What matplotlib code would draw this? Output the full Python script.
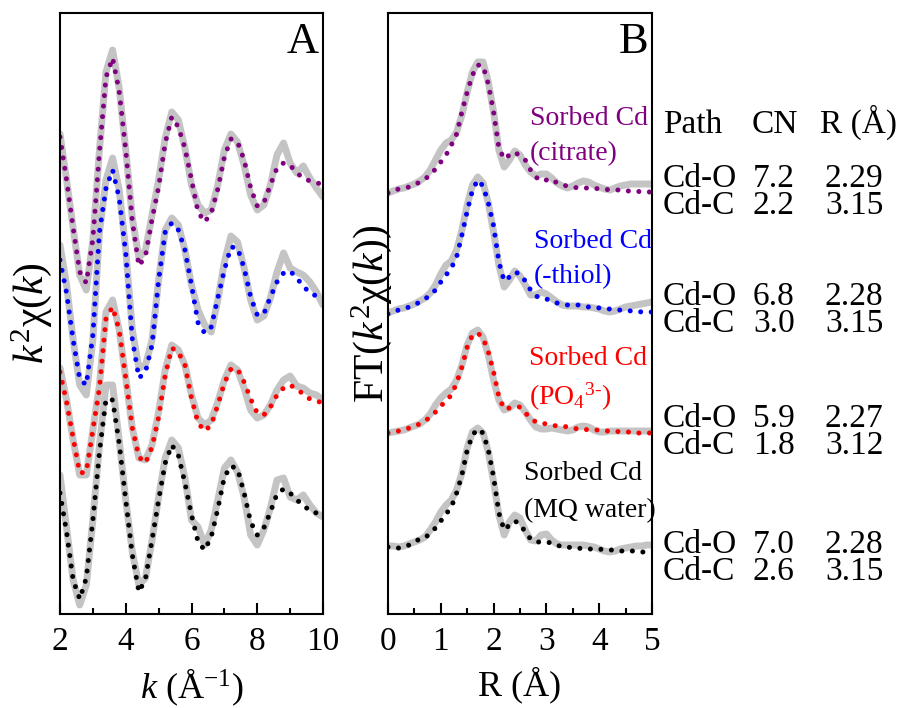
import numpy as np
import matplotlib
matplotlib.use("Agg")
import matplotlib.pyplot as plt
from matplotlib.ticker import MultipleLocator

plt.rcParams['font.family'] = ['Liberation Serif', 'DejaVu Serif']
plt.rcParams['mathtext.fontset'] = 'custom'
plt.rcParams['mathtext.rm'] = 'Liberation Serif'
plt.rcParams['mathtext.it'] = 'Liberation Serif:italic'

# ---- panel A: k-space, stacked (arbitrary units), grid k = 2..10 step 0.2
k = np.linspace(2, 10, 41)
citrate_k_data = [480, 434, 386, 339, 324, 374, 464, 542, 564, 526, 464, 396, 356, 364, 399, 434, 476, 502, 494, 466,
                  429, 409, 401, 404, 429, 464, 480, 472, 449, 419, 404, 409, 429, 459, 471, 451, 441, 448, 436, 426, 417]
citrate_k_fit = [477, 434, 386, 342, 331, 375, 462, 537, 556, 523, 464, 393, 348, 358, 395, 427, 471, 497, 487, 466,
                 434, 402, 392, 401, 425, 457, 475, 472, 454, 426, 408, 411, 429, 446, 451, 449, 441, 436, 433, 431, 430]
thiol_k_data = [369, 329, 274, 229, 219, 274, 382, 434, 456, 424, 364, 284, 246, 249, 274, 334, 384, 396, 389, 364,
                329, 304, 289, 282, 314, 352, 378, 372, 346, 314, 294, 298, 316, 342, 361, 346, 342, 339, 332, 322, 309]
thiol_k_fit = [354, 321, 274, 235, 229, 279, 382, 426, 444, 416, 361, 275, 236, 242, 269, 334, 382, 391, 384, 364,
               329, 291, 281, 287, 316, 344, 367, 366, 346, 317, 299, 300, 317, 332, 341, 343, 336, 328, 321, 318, 317]
po4_k_data = [246, 214, 174, 139, 139, 184, 229, 302, 314, 284, 236, 186, 156, 154, 169, 202, 244, 269, 264, 249,
              219, 196, 189, 194, 212, 234, 249, 244, 226, 204, 196, 199, 209, 224, 234, 238, 228, 226, 221, 219, 214]
po4_k_fit = [242, 212, 176, 141, 142, 184, 226, 296, 307, 284, 236, 186, 157, 151, 167, 197, 239, 266, 262, 249,
             216, 191, 183, 189, 209, 231, 245, 245, 232, 215, 201, 199, 207, 219, 226, 229, 225, 220, 215, 213, 211]
mq_k_data = [139, 86, 34, 9, 29, 94, 169, 229, 229, 174, 114, 62, 29, 36, 74, 117, 156, 174, 166, 136,
             94, 87, 69, 84, 114, 146, 154, 142, 117, 79, 69, 84, 106, 134, 136, 117, 114, 119, 109, 101, 97]
mq_k_fit = [121, 82, 34, 15, 36, 94, 162, 215, 214, 171, 114, 59, 22, 35, 74, 114, 151, 169, 159, 131,
            99, 72, 64, 77, 105, 137, 148, 145, 121, 92, 79, 86, 102, 120, 125, 121, 114, 109, 103, 101, 100]

# ---- panel B: Fourier transform, grid R = 0..5 step 0.1
R = np.linspace(0, 5, 51)
citrate_r_data = [421, 423, 425, 426, 428, 430, 433, 437, 444, 454, 464, 471, 474, 482, 499, 522, 542, 552, 552, 532,
                  502, 464, 447, 454, 463, 459, 449, 442, 438, 440, 440, 436, 431, 428, 426, 428, 431, 433, 432, 429,
                  427, 425, 424, 426, 428, 429, 430, 430, 430, 430, 430]
citrate_r_fit = [421, 423, 425, 426, 427, 429, 432, 435, 439, 445, 452, 459, 469, 480, 502, 522, 539, 549, 548, 530,
                 502, 466, 455, 459, 462, 458, 454, 444, 437, 433, 434, 435, 431, 429, 428, 427, 426, 426, 426, 426,
                 425, 425, 424, 424, 424, 423, 423, 423, 422, 422, 422]
thiol_r_data = [301, 303, 305, 306, 308, 310, 313, 316, 321, 329, 340, 349, 353, 364, 384, 409, 429, 437, 431, 411,
                382, 349, 327, 334, 343, 338, 329, 319, 319, 322, 320, 316, 312, 309, 308, 308, 308, 307, 307, 306,
                305, 303, 302, 303, 305, 307, 308, 309, 310, 311, 312]
thiol_r_fit = [300, 302, 304, 305, 307, 309, 312, 315, 319, 324, 332, 339, 346, 357, 379, 403, 424, 434, 428, 411,
               388, 352, 333, 337, 342, 340, 333, 324, 318, 316, 315, 313, 311, 310, 309, 309, 309, 308, 307, 307,
               306, 305, 305, 304, 304, 304, 303, 303, 302, 302, 302]
po4_r_data = [181, 182, 183, 184, 186, 188, 190, 194, 200, 209, 216, 221, 225, 234, 249, 269, 281, 284, 277, 259,
              234, 214, 204, 206, 211, 209, 202, 194, 187, 185, 185, 186, 185, 184, 183, 184, 187, 188, 187, 184,
              182, 182, 183, 183, 183, 183, 183, 183, 183, 183, 183]
po4_r_fit = [181, 182, 183, 184, 186, 188, 190, 193, 197, 202, 208, 213, 219, 231, 247, 267, 279, 281, 276, 262,
             242, 217, 205, 206, 207, 207, 201, 196, 192, 191, 190, 189, 188, 188, 187, 186, 185, 185, 184, 184,
             184, 183, 183, 183, 182, 182, 182, 181, 181, 181, 181]
mq_r_data = [68, 68, 67, 68, 70, 72, 74, 77, 84, 92, 102, 109, 114, 124, 141, 166, 182, 186, 181, 162,
             132, 99, 79, 92, 99, 96, 84, 74, 73, 79, 80, 74, 70, 69, 69, 69, 69, 69, 68, 67,
             65, 63, 62, 63, 65, 66, 67, 68, 68, 69, 69]
mq_r_fit = [67, 66, 66, 67, 69, 72, 75, 76, 81, 86, 93, 100, 107, 121, 139, 164, 179, 185, 181, 164,
            137, 101, 84, 89, 93, 90, 82, 75, 72, 72, 72, 71, 69, 67, 67, 66, 66, 65, 65, 65,
            65, 64, 64, 64, 63, 63, 63, 63, 62, 62, 62]

colors = ['purple', 'blue', 'red', 'black']
k_series = [(citrate_k_data, citrate_k_fit), (thiol_k_data, thiol_k_fit),
            (po4_k_data, po4_k_fit), (mq_k_data, mq_k_fit)]
r_series = [(citrate_r_data, citrate_r_fit), (thiol_r_data, thiol_r_fit),
            (po4_r_data, po4_r_fit), (mq_r_data, mq_r_fit)]
sample_names = ['(citrate)', '(-thiol)', '(PO$_4$$^{3\\text{-}}$)', '(MQ water)']

# fitting table
paths = ['Cd-O', 'Cd-C']
cn_values = [['7.2', '2.2'], ['6.8', '3.0'], ['5.9', '1.8'], ['7.0', '2.6']]
r_values = [['2.29', '3.15'], ['2.28', '3.15'], ['2.27', '3.12'], ['2.28', '3.15']]

W, H = 911, 708
fig = plt.figure(figsize=(W / 100, H / 100), dpi=100)
axA = fig.add_axes([60 / W, 1 - 614 / H, 263 / W, 601 / H])
axB = fig.add_axes([388 / W, 1 - 614 / H, 264 / W, 601 / H])

gray = '#c4c4c4'
dot_style = dict(lw=3.6, linestyle=(0, (0.01, 2.1)), dash_capstyle='round')

for (d, f), c in zip(k_series, colors):
    axA.plot(k, d, color=gray, lw=5, solid_joinstyle='round', solid_capstyle='round')
    axA.plot(k, f, color=c, **dot_style)
for (d, f), c in zip(r_series, colors):
    axB.plot(R, d, color=gray, lw=5, solid_joinstyle='round', solid_capstyle='round')
    axB.plot(R, f, color=c, **dot_style)

axA.set_xlim(2, 10)
axB.set_xlim(0, 5)
axA.xaxis.set_major_locator(MultipleLocator(2))
axA.xaxis.set_minor_locator(MultipleLocator(1))
axB.xaxis.set_major_locator(MultipleLocator(1))
axB.xaxis.set_minor_locator(MultipleLocator(0.5))

for ax in (axA, axB):
    ax.set_ylim(0, 601)
    ax.set_yticks([])
    for s in ax.spines.values():
        s.set_linewidth(1.5)
    ax.tick_params(axis='x', which='major', direction='in', length=8, width=1.5, labelsize=24, pad=9)
    ax.tick_params(axis='x', which='minor', direction='in', length=4.5, width=1.5)

axA.set_xlabel('$k$ (Å$^{-1}$)', fontsize=26, labelpad=7)
axB.set_xlabel('R (Å)', fontsize=26, labelpad=7)
axA.set_ylabel('$k^2$χ($k$)', fontsize=30, labelpad=4)
axB.set_ylabel('FT($k^2$χ($k$))', fontsize=30, labelpad=-4)

axA.text(0.985, 0.985, 'A', transform=axA.transAxes, ha='right', va='top', fontsize=32)
axB.text(0.985, 0.985, 'B', transform=axB.transAxes, ha='right', va='top', fontsize=32)

# sample labels in panel B: (x, first baseline, second baseline) in pixels
label_pos = [(530, 125, 160), (534, 248, 283), (529, 365, 405), (524, 480, 517)]
for name, c, (px, y1, y2) in zip(sample_names, colors, label_pos):
    fig.text(px / W, 1 - y1 / H, 'Sorbed Cd', color=c, fontsize=20, ha='left', va='baseline')
    fig.text(px / W, 1 - y2 / H, name, color=c, fontsize=20, ha='left', va='baseline')

# table on the right
fig.text(663 / W, 1 - 133 / H, 'Path', fontsize=24, va='baseline')
fig.text(752 / W, 1 - 133 / H, 'CN', fontsize=24, va='baseline')
fig.text(820 / W, 1 - 133 / H, 'R (Å)', fontsize=24, va='baseline')
row_y = [187, 305, 427, 553]
for y0, cns, rs in zip(row_y, cn_values, r_values):
    for j in range(2):
        y = y0 + 27 * j
        fig.text(663 / W, 1 - y / H, paths[j], fontsize=24, va='baseline')
        fig.text(753 / W, 1 - y / H, cns[j], fontsize=24, va='baseline')
        fig.text(825 / W, 1 - y / H, rs[j], fontsize=24, va='baseline')

fig.savefig('out.png', dpi=100)
